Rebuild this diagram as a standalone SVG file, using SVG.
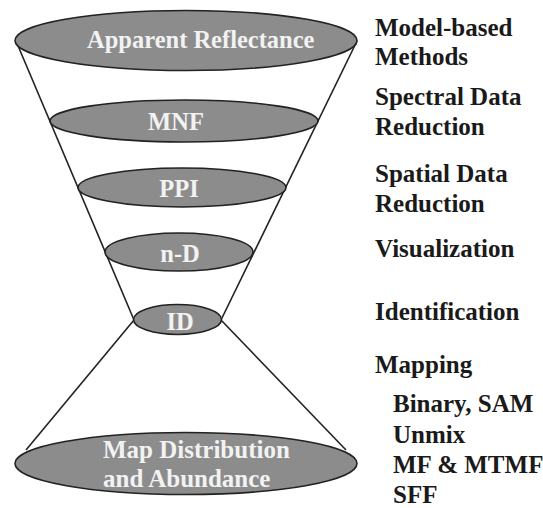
<svg xmlns="http://www.w3.org/2000/svg" width="543" height="508" viewBox="0 0 543 508">
<style>
.ell{fill:#8c8c8c;stroke:#222;stroke-width:1.6}
.in{font-family:'Liberation Serif','DejaVu Serif',serif;font-weight:bold;font-size:24.5px;fill:#f2f2f2}
.lab{font-family:'Liberation Serif','DejaVu Serif',serif;font-weight:bold;font-size:25px;fill:#1a1a1a}
.ln{stroke:#222;stroke-width:1.6;fill:none}
</style>
<rect width="543" height="508" fill="#fff"/>
<g id="connectors">
<line class="ln" x1="16" y1="41" x2="134" y2="320"/>
<line class="ln" x1="357" y1="41" x2="221" y2="320"/>
<line class="ln" x1="134" y1="320" x2="26" y2="450"/>
<line class="ln" x1="221" y1="320" x2="346" y2="450"/>
</g>
<g id="node-apparent">
<ellipse class="ell" cx="186" cy="40.5" rx="171" ry="30"/>
<text class="in" x="87" y="48">Apparent Reflectance</text>
</g>
<g id="node-mnf">
<ellipse class="ell" cx="184" cy="121" rx="134" ry="21"/>
<text class="in" x="176" y="130" text-anchor="middle">MNF</text>
</g>
<g id="node-ppi">
<ellipse class="ell" cx="182" cy="187.5" rx="104" ry="19.5"/>
<text class="in" x="179" y="197" text-anchor="middle">PPI</text>
</g>
<g id="node-nd">
<ellipse class="ell" cx="179" cy="252" rx="74" ry="19"/>
<text class="in" x="180" y="262" text-anchor="middle">n-D</text>
</g>
<g id="node-id">
<ellipse class="ell" cx="177.5" cy="319.5" rx="44" ry="15"/>
<text class="in" x="180" y="330" text-anchor="middle">ID</text>
</g>
<g id="node-map">
<ellipse class="ell" cx="186" cy="463.5" rx="171" ry="31"/>
<text class="in" x="103" y="458" style="font-size:25px">Map Distribution</text>
<text class="in" x="103" y="487" style="font-size:25px">and Abundance</text>
</g>
<g id="labels">
<text class="lab" x="375" y="36">Model-based</text>
<text class="lab" x="375" y="65">Methods</text>
<text class="lab" x="375" y="105">Spectral Data</text>
<text class="lab" x="375" y="135">Reduction</text>
<text class="lab" x="375" y="182">Spatial Data</text>
<text class="lab" x="375" y="212">Reduction</text>
<text class="lab" x="375" y="257">Visualization</text>
<text class="lab" x="375" y="320">Identification</text>
<text class="lab" x="375" y="373">Mapping</text>
<text class="lab" x="393" y="412">Binary, SAM</text>
<text class="lab" x="393" y="443">Unmix</text>
<text class="lab" x="393" y="473">MF &amp; MTMF</text>
<text class="lab" x="393" y="503">SFF</text>
</g>
</svg>
